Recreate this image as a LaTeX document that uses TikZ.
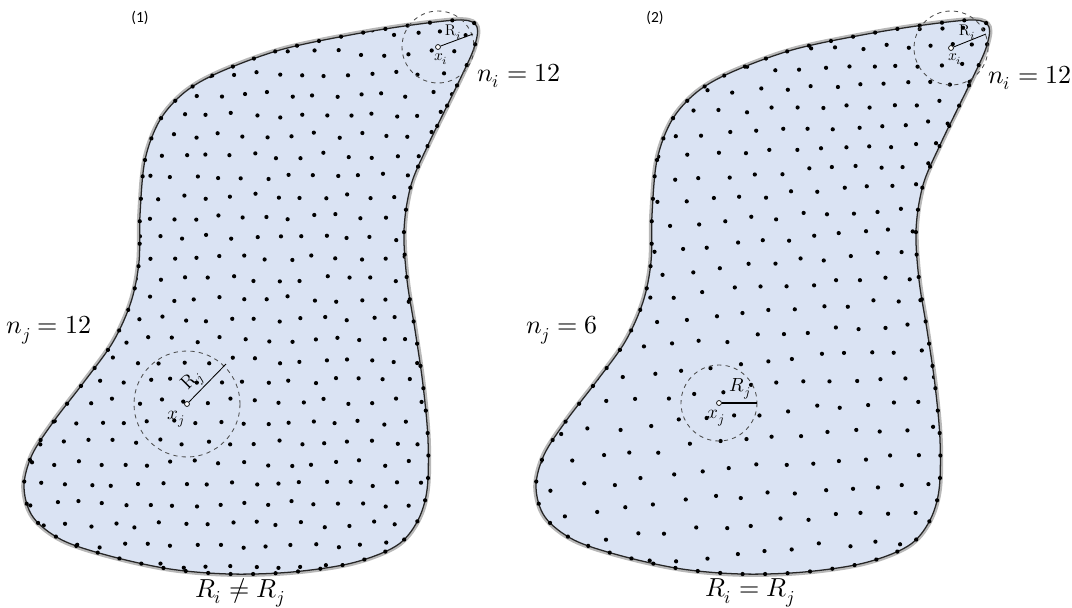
\documentclass[tikz,border=0pt]{standalone}
\usepackage{fontspec}
\usepackage{unicode-math}
\newfontfamily\capfont{Carlito}
\usetikzlibrary{decorations.markings}
\definecolor{blobFill}{HTML}{DAE3F3}
\definecolor{blobLine}{HTML}{262626}
% outline of the domain, in pixel units (y pointing down)
\newcommand\blobpath{plot[smooth cycle,tension=0.55] coordinates {
  (140,215) (145,160) (160,120) (185,92) (220,72) (280,50) (350,35)
  (412,25) (462,20) (477,27) (474,48) (462,75) (446,108) (428,145)
  (411,185) (404,230) (407,280) (415,330) (423,385) (428,440) (427,490)
  (417,522) (396,546) (352,563) (292,572) (230,574) (170,569) (110,556)
  (62,540) (33,517) (24,487) (32,455) (54,421) (84,382) (113,342)
  (131,302) (139,262)}}

\begin{document}
\begin{tikzpicture}[x=0.025cm,y=-0.025cm,
    halo/.style={draw=black!28,line width=4pt},
    rim/.style={draw=blobLine,line width=0.9pt,postaction={decorate},
      decoration={markings,mark=between positions 0 and 1 step 16pt
        with {\fill (0,0) circle (1.5pt);}}},
    zone/.style={draw=black!70,dashed,line width=0.6pt},
    ctr/.style={circle,draw,fill=white,inner sep=0pt,minimum size=3.5pt,line width=0.5pt},
    big/.style={font=\fontsize{18.5}{20}\selectfont},
    tag/.style={font=\capfont\fontsize{11}{12}\selectfont},
    smallx/.style={font=\fontsize{11}{12}\selectfont,inner sep=1pt},
    midx/.style={font=\fontsize{13.5}{15}\selectfont,inner sep=1pt}]
  \useasboundingbox (0,0) rectangle (1072,607);

  % ---- panel (1): uniform spacing
  \node[tag] (tag1) at (140,18) {(1)};
  \draw[halo] \blobpath;
  \fill[blobFill] \blobpath;
  \begin{scope}
    \clip \blobpath;
    \pgfmathsetseed{7}
    \foreach \row in {0,...,28}
      \foreach \col in {0,...,20}{
        \pgfmathsetmacro\px{8+\col*23.5+mod(\row,2)*11.75+3*rand}
        \pgfmathsetmacro\py{12+\row*20.5+3*rand}
        \fill (\px,\py) circle (1.5pt);}
  \end{scope}
  \path[rim] \blobpath;

  \node[ctr] (xi) at (438,47) {};
  \coordinate (ri) at (473,34);
  \draw[zone] (xi.center) circle (36);
  \draw[line width=0.6pt] (xi) -- (ri);
  \node[smallx] (Ri) at (453,32) {$\mathrm{R}_i$};
  \node[smallx] (lxi) at (441,59) {$x_i$};
  \node[big] (ni) at (519,76) {$n_i = 12$};

  \node[ctr] (xj) at (187,404) {};
  \coordinate (rj) at (226,364);
  \draw[zone] (xj.center) circle (53);
  \draw[line width=0.6pt] (xj) -- (rj);
  \node[midx,rotate=45] (Rj) at (193,381) {$\mathrm{R}_j$};
  \node[midx] (lxj) at (176,419) {$x_j$};
  \node[big] (nj) at (49,330) {$n_j = 12$};
  \node[big] (cmp1) at (240,593) {$R_i \neq R_j$};

  % ---- panel (2): spacing grows away from the tip
  \begin{scope}[shift={(512,0)}]
    \node[tag] (tag2) at (143,18) {(2)};
    \draw[halo] \blobpath;
    \fill[blobFill] \blobpath;
    \begin{scope}
      \clip \blobpath;
      \pgfmathsetseed{11}
      \foreach \row in {-1,...,26}
        \foreach \col in {-1,...,24}{
          \pgfmathsetmacro\u{-\col*20+mod(\row+2,2)*10+2*rand}
          \pgfmathsetmacro\v{\row*17.5+2*rand}
          \pgfmathsetmacro\f{1+0.00086*veclen(\u,\v)}
          \fill ({470+\u*\f},{28+\v*\f}) circle (1.5pt);}
    \end{scope}
    \path[rim] \blobpath;

    \node[ctr] (xiB) at (439,48) {};
    \coordinate (riB) at (474,34);
    \draw[zone] (xiB.center) circle (37);
    \draw[line width=0.6pt] (xiB) -- (riB);
    \node[smallx] (RiB) at (455,32) {$\mathrm{R}_i$};
    \node[smallx] (lxiB) at (443,59) {$x_i$};
    \node[big] (niB) at (518,78) {$n_i = 12$};

    \node[ctr] (xjB) at (207,403) {};
    \coordinate (rjB) at (245,403);
    \draw[zone] (xjB.center) circle (38);
    \draw[line width=0.8pt] (xjB) -- (rjB);
    \node[midx] (RjB) at (228,389) {$R_j$};
    \node[midx] (lxjB) at (204,418) {$x_j$};
    \node[big] (njB) at (50,330) {$n_j = 6$};
    \node[big] (cmp2) at (238,593) {$R_i = R_j$};
  \end{scope}
\end{tikzpicture}
\end{document}
